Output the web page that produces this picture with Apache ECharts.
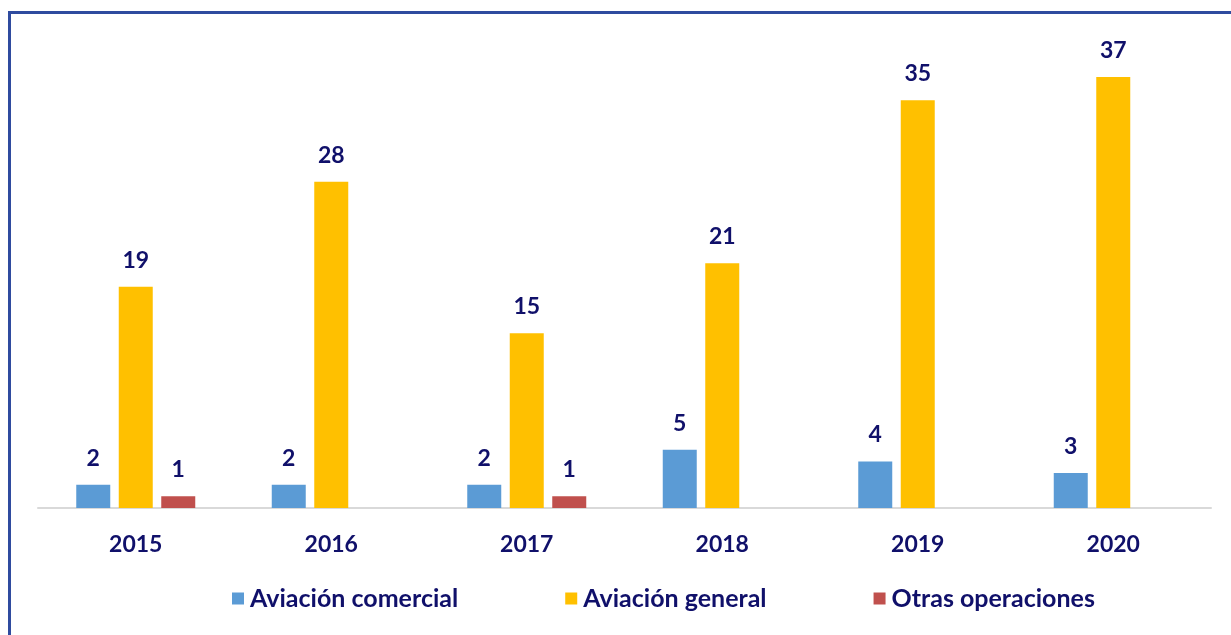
<!DOCTYPE html>
<html>
<head>
<meta charset="utf-8">
<script src="https://cdn.jsdelivr.net/npm/echarts@6/dist/echarts.min.js"></script>
<style>
  html, body { margin: 0; padding: 0; background: #fff; }
  #chart { position: absolute; left: 0; top: 0; width: 1231px; height: 635px; }
  #frame {
    position: absolute; left: 8px; top: 11px; right: -10px; bottom: -10px;
    border-top: 3px solid #2f4b9f; border-left: 3px solid #2f4b9f;
    pointer-events: none;
  }
</style>
</head>
<body>
<div id="chart"></div>
<div id="frame"></div>
<script>
const years = ['2015', '2016', '2017', '2018', '2019', '2020']
const comercial = [2, 2, 2, 5, 4, 3]
const general = [19, 28, 15, 21, 35, 37]
const otras = [1, null, 1, null, null, null]

const navy = '#10106a'
const font = 'Lato'

const labelStyle = {
  show: true,
  position: 'top',
  distance: 15,
  color: navy,
  fontWeight: 'bold',
  fontSize: 23,
  fontFamily: font
}

const chart = echarts.init(document.getElementById('chart'))

chart.setOption({
  animation: false,
  grid: {
    top: 42,
    left: 38,
    right: 20,
    bottom: 127
  },
  legend: {
    bottom: 19,
    left: 227,
    itemWidth: 12,
    itemHeight: 12,
    itemGap: 107,
    icon: 'rect',
    textStyle: {
      color: navy,
      fontWeight: 'bold',
      fontSize: 25,
      fontFamily: font,
      padding: [0, 0, 0, 1]
    }
  },
  xAxis: {
    type: 'category',
    data: years,
    axisTick: { show: false },
    axisLine: { lineStyle: { color: '#d9d9d9', width: 2 } },
    axisLabel: {
      margin: 25,
      color: navy,
      fontWeight: 'bold',
      fontSize: 23,
      fontFamily: font
    }
  },
  yAxis: {
    type: 'value',
    min: 0,
    max: 40,
    show: false,
    splitLine: { show: false }
  },
  series: [
    {
      name: 'Aviación comercial',
      type: 'bar',
      data: comercial,
      barWidth: 34,
      barGap: '25%',
      itemStyle: { color: '#5b9bd5' },
      label: labelStyle
    },
    {
      name: 'Aviación general',
      type: 'bar',
      data: general,
      barWidth: 34,
      itemStyle: { color: '#ffc000' },
      label: labelStyle
    },
    {
      name: 'Otras operaciones',
      type: 'bar',
      data: otras,
      barWidth: 34,
      itemStyle: { color: '#c0504d' },
      label: labelStyle
    }
  ]
})
</script>
</body>
</html>
